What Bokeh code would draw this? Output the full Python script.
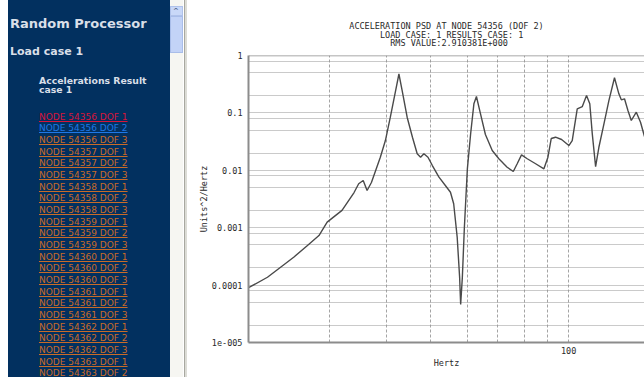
import math
from bokeh.plotting import figure
from bokeh.models import FixedTicker, CustomJSTickFormatter, Title, Span, Div, Range1d
from bokeh.layouts import row
from bokeh.embed import file_html
from bokeh.resources import INLINE

# ---------------- data ----------------
freq_hz = [20.0, 22.0, 23.5, 25.1, 26.9, 28.5, 29.7, 32.0, 34.0, 34.8, 35.6, 36.3, 37.1,
           37.9, 38.8, 39.8, 40.8, 41.9, 42.6, 43.3, 44.4, 45.6, 46.7, 47.5, 48.3, 49.3,
           50.4, 52.1, 53.8, 55.2, 56.1, 57.1, 57.8, 58.1, 58.6, 59.2, 60.1, 61.1, 62.1,
           62.9, 64.2, 65.8, 68.1, 70.4, 73.4, 75.7, 77.2, 78.9, 81.2, 84.7, 88.3, 90.1,
           91.6, 93.6, 96.5, 100.1, 101.8, 104.4, 107.1, 109.4, 111.2, 112.6, 114.5, 116.4,
           119.4, 122.4, 125.9, 128.7, 130.3, 132.4, 134.7, 137.0, 140.5, 143.5, 146.4]
psd = [9.0e-5, 1.37e-4, 2.05e-4, 3.06e-4, 4.9e-4, 7.31e-4, 1.25e-3, 2.0e-3, 4.1e-3,
       5.82e-3, 6.64e-3, 4.45e-3, 6.13e-3, 9.93e-3, 1.69e-2, 3.3e-2, 8.41e-2, 0.245,
       0.476, 0.245, 8.41e-2, 3.77e-2, 1.94e-2, 1.69e-2, 1.94e-2, 1.69e-2, 1.21e-2,
       7.59e-3, 5.43e-3, 4.15e-3, 2.61e-3, 6.83e-4, 1.37e-4, 4.59e-5, 1.37e-4, 1.02e-3,
       1.07e-2, 4.38e-2, 0.144, 0.193, 9.64e-2, 4.21e-2, 2.21e-2, 1.59e-2, 1.13e-2,
       9.53e-3, 1.30e-2, 1.86e-2, 1.59e-2, 1.30e-2, 1.06e-2, 1.69e-2, 3.58e-2, 3.77e-2,
       3.44e-2, 2.70e-2, 3.30e-2, 0.118, 0.129, 0.201, 0.144, 4.32e-2, 1.16e-2, 2.52e-2,
       6.46e-2, 0.164, 0.409, 0.215, 0.169, 0.176, 0.110, 7.37e-2, 0.103, 6.88e-2, 3.88e-2]

title_lines = ["ACCELERATION PSD AT NODE 54356 (DOF 2)",
               "LOAD CASE: 1 RESULTS CASE: 1",
               "RMS VALUE:2.910381E+000"]
x_label = "Hertz"
y_label = "Units^2/Hertz"

x_ticks = [100, 1000]
x_tick_labels = ["100", "1000"]
x_minor = [30, 40, 50, 60, 70, 80, 90, 200, 300]
y_ticks = [1e-5, 1e-4, 1e-3, 1e-2, 1e-1, 1]
y_tick_labels = ["1e-005", "0.0001", "0.001", "0.01", "0.1", "1"]
y_minor = [2e-5, 5e-5, 8e-5, 2e-4, 5e-4, 8e-4, 2e-3, 5e-3, 8e-3,
           2e-2, 5e-2, 8e-2, 0.2, 0.5, 0.8]

side_title = "Random Processor"
side_case = "Load case 1"
side_result = ["Accelerations Result", "case 1"]
link_nodes = [54356, 54357, 54358, 54359, 54360, 54361, 54362, 54363]
link_dofs = [1, 2, 3]

H = 377

# ---------------- sidebar ----------------
links = [(n, d) for n in link_nodes for d in link_dofs][:23]
parts = [f'<div style="position:relative;width:190px;height:{H}px;overflow:hidden;background:#ffffff;">',
         f'<div style="position:absolute;left:8px;top:0;width:162px;height:{H}px;background:#02305f;"></div>',
         f'<div style="position:absolute;left:170px;top:0;width:13px;height:{H}px;background:#f6f6f2;"></div>',
         '<div style="position:absolute;left:170px;top:6px;width:13px;height:10px;background:#c9d8f8;border:1px solid #b0c2ea;box-sizing:border-box;"></div>',
         '<div style="position:absolute;left:173px;top:7px;font:bold 7px \'DejaVu Sans\';color:#4d6185;">^</div>',
         '<div style="position:absolute;left:170px;top:16px;width:13px;height:37px;background:#c3d3f7;border:1px solid #a9bde9;box-sizing:border-box;"></div>',
         f'<div style="position:absolute;left:184px;top:0;width:1px;height:{H}px;background:#a8a8a0;"></div>',
         f'<div style="position:absolute;left:185px;top:0;width:2px;height:{H}px;background:#dcdcd6;"></div>']

def txt(left, center, size, color, content, bold=False, underline=False, lh=12):
    top = center - lh / 2
    style = (f"position:absolute;left:{left}px;top:{top:.1f}px;line-height:{lh}px;"
             f"font-family:'DejaVu Sans';font-size:{size}px;color:{color};white-space:nowrap;"
             f"font-weight:{'bold' if bold else 'normal'};"
             f"text-decoration:{'underline' if underline else 'none'};")
    return f'<div style="{style}">{content}</div>'

parts.append(txt(10, 24, 13, "#d9dfe8", side_title, bold=True, lh=16))
parts.append(txt(10, 52, 11, "#d9dfe8", side_case, bold=True, lh=14))
parts.append(txt(39, 80, 9.3, "#d9dfe8", side_result[0], bold=True, lh=11))
parts.append(txt(39, 89.5, 9.3, "#d9dfe8", side_result[1], bold=True, lh=11))
for i, (n, d) in enumerate(links):
    col = "#d8143a" if i == 0 else ("#1f78e6" if i == 1 else "#c96b28")
    parts.append(txt(39, 116.7 + i * 11.67, 9, col, f"NODE {n} DOF {d}", underline=True))
parts.append("</div>")
side = Div(text="".join(parts), width=190, height=H, margin=(0, 0, 0, 0))

# ---------------- chart ----------------
p = figure(width=454, height=H, x_axis_type="log", y_axis_type="log",
           x_range=Range1d(20, 146.4), y_range=Range1d(1e-5, 1),
           output_backend="svg", toolbar_location=None,
           min_border_left=58, min_border_right=0, min_border_top=55, min_border_bottom=35,
           background_fill_color="white", border_fill_color="white")
p.outline_line_color = None

fmt_code = """
for (let i = 0; i < vals.length; i++) {
  if (Math.abs(Math.log10(vals[i]) - Math.log10(tick)) < 1e-6) return labs[i];
}
return "";
"""
p.xaxis.ticker = FixedTicker(ticks=x_ticks, minor_ticks=x_minor)
p.yaxis.ticker = FixedTicker(ticks=y_ticks, minor_ticks=y_minor)
p.xaxis.formatter = CustomJSTickFormatter(args=dict(vals=x_ticks, labs=x_tick_labels), code=fmt_code)
p.yaxis.formatter = CustomJSTickFormatter(args=dict(vals=y_ticks, labs=y_tick_labels), code=fmt_code)

for ax in (p.xaxis[0], p.yaxis[0]):
    ax.axis_line_color = "#8c8c8c"
    ax.axis_line_width = 2
    ax.major_tick_line_color = None
    ax.minor_tick_line_color = None
    ax.major_tick_out = 0
    ax.major_tick_in = 0
    ax.minor_tick_out = 0
    ax.minor_tick_in = 0
    ax.major_label_text_font = "DejaVu Sans Mono"
    ax.major_label_text_font_size = "8.5px"
    ax.major_label_text_color = "#2a2a2a"
    ax.axis_label_text_font = "DejaVu Sans Mono"
    ax.axis_label_text_font_size = "8.5px"
    ax.axis_label_text_font_style = "normal"
    ax.axis_label_text_color = "#2a2a2a"
p.xaxis.axis_label = x_label
p.yaxis.axis_label = y_label
p.xaxis.major_label_standoff = 4
p.xaxis.axis_label_standoff = 1
p.yaxis.major_label_standoff = 6
p.yaxis.axis_label_standoff = 0

p.xgrid.grid_line_color = "#a4a4a4"
p.xgrid.grid_line_dash = "3 2"
p.xgrid.minor_grid_line_color = "#a4a4a4"
p.xgrid.minor_grid_line_dash = "3 2"
p.ygrid.grid_line_color = "#959595"
p.ygrid.grid_line_dash = "1 1"
p.ygrid.minor_grid_line_color = "#959595"
p.ygrid.minor_grid_line_dash = "1 1"

p.add_layout(Span(location=1, dimension="width", line_color="#8c8c8c", line_width=1.5))

p.line(freq_hz, psd, line_color="#4a4a4a", line_width=1.4)

# one three-line title; shorter lines are centred with no-break spaces (monospace font)
longest = max(len(t) for t in title_lines)
centred = ["\u00a0" * math.ceil((longest - len(t)) / 2 + 0.5) + t if len(t) < longest else t
           for t in title_lines]
p.add_layout(Title(text="\n".join(centred), align="center", text_font="DejaVu Sans Mono",
                   text_font_size="8.5px", text_font_style="normal",
                   text_color="#2a2a2a", standoff=14, text_line_height=0.87), "above")

layout = row(side, p)
open("out.html", "w").write(file_html(layout, INLINE))
